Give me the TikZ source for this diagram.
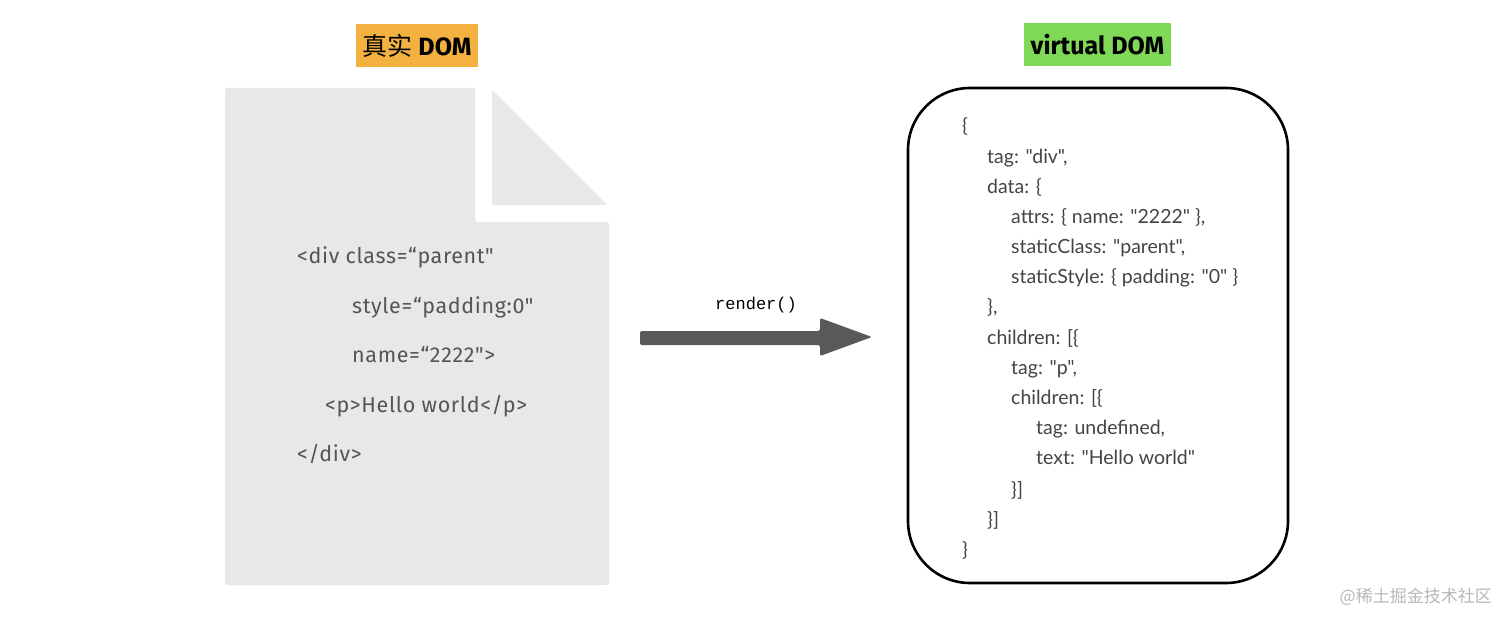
\documentclass[tikz,border=0pt]{standalone}
\usepackage{fontspec}
\setmainfont{Fira Sans}
\newfontfamily\codefont{Lato}
\newfontfamily\monofont{Liberation Mono}
\newfontfamily\cjkfont{Noto Sans CJK SC}
\newfontfamily\htmlfont[LetterSpace=3]{Fira Sans}
\definecolor{docgray}{HTML}{E8E8E8}
\definecolor{codegray}{HTML}{555555}
\definecolor{jsgray}{HTML}{444444}
\definecolor{arrowgray}{HTML}{595959}
\definecolor{titleorange}{HTML}{F3B13F}
\definecolor{titlegreen}{HTML}{7FD957}
\definecolor{markgray}{HTML}{B8B8B8}
\tikzset{
  htmlline/.style={anchor=base west, inner sep=0pt, text=codegray, font=\htmlfont\fontsize{21.5}{25}\selectfont},
  jsline/.style={anchor=base west, inner sep=0pt, text=jsgray, font=\codefont\fontsize{19.5}{23}\selectfont},
  titlebox/.style={inner sep=0pt, minimum height=43pt, text=black, font=\bfseries\fontsize{25}{29}\selectfont},
}
\begin{document}
\begin{tikzpicture}[x=1pt,y=-1pt]
\useasboundingbox (0,0) rectangle (1512,623);
\fill[white] (0,0) rectangle (1512,623);
% titles
\node[titlebox, fill=titleorange, minimum width=122pt] (t1) at (417,45.5) {{\cjkfont\mdseries 真实}\ DOM};
\node[titlebox, fill=titlegreen, minimum width=147pt] (t2) at (1097.5,45) {virtual DOM};
% document shape
\fill[docgray, rounded corners=2pt] (225,88) -- (475,88) -- (475,222) -- (609,222) -- (609,585) -- (225,585) -- cycle;
\fill[docgray, rounded corners=1pt] (492,90) -- (607,205) -- (492,205) -- cycle;
% html code
\node[htmlline] (h1) at (297,263) {<div class=“parent"};
\node[htmlline] (h2) at (352,313) {style=“padding:0"};
\node[htmlline] (h3) at (352,362) {name=“2222">};
\node[htmlline] (h4) at (325,412) {<p>Hello world</p>};
\node[htmlline] (h5) at (297,461) {</div>};
% arrow
\coordinate (as) at (640,338);
\coordinate (ae) at (872,338);
\fill[arrowgray, rounded corners=2pt] (640,331) -- (820,331) -- (820,318) -- (872,337) -- (820,356) -- (820,345) -- (640,345) -- cycle;
\node[inner sep=0pt, font=\monofont\fontsize{17}{20}\selectfont, text=black] (lbl) at (756,305) {render()};
% virtual dom box
\draw[line width=2.6pt, rounded corners=62pt] (908,88) rectangle (1288,583);
% js code
\node[jsline] (j1) at (962,133) {\{};
\node[jsline] (j2) at (987,164) {tag: "div",};
\node[jsline] (j3) at (987,193) {data: \{};
\node[jsline] (j4) at (1011,223) {attrs: \{ name: "2222" \},};
\node[jsline] (j5) at (1011,253) {staticClass: "parent",};
\node[jsline] (j6) at (1011,283) {staticStyle: \{ padding: "0" \}};
\node[jsline] (j7) at (987,313) {\},};
\node[jsline] (j8) at (987,344) {children: [\{};
\node[jsline] (j9) at (1011,374) {tag: "p",};
\node[jsline] (j10) at (1011,404) {children: [\{};
\node[jsline] (j11) at (1036,434) {tag: undefined,};
\node[jsline] (j12) at (1036,464) {text: "Hello world"};
\node[jsline] (j13) at (1011,496) {\}]};
\node[jsline] (j14) at (987,526) {\}]};
\node[jsline] (j15) at (962,556) {\}};
% watermark
\node[inner sep=0pt, anchor=east, text=markgray, font=\cjkfont\fontsize{17}{20}\selectfont] (wm) at (1492,597) {@稀土掘金技术社区};
\end{tikzpicture}
\end{document}
